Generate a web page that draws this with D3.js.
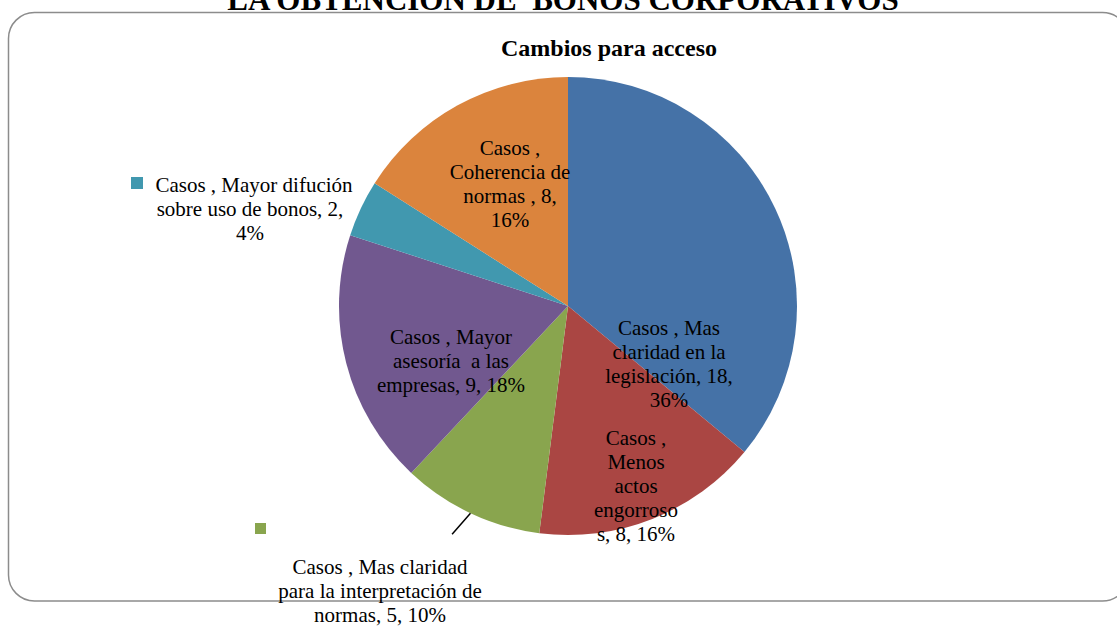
<!DOCTYPE html>
<html>
<head>
<meta charset="utf-8">
<script src="https://cdn.jsdelivr.net/npm/d3@7"></script>
<style>
  body { margin: 0; background: #fff; }
  text { font-family: "Liberation Serif", "Times New Roman", serif; fill: #000; }
</style>
</head>
<body>
<div class="chart"></div>
<script>
var svgWidth = 1117;
var svgHeight = 626;

// data
var categories = [
    "Mas claridad en la legislación",
    "Menos actos engorrosos",
    "Mas claridad para la interpretación de normas",
    "Mayor asesoría  a las empresas",
    "Mayor difución sobre uso de bonos",
    "Coherencia de normas"
];
var values = [18, 8, 5, 9, 2, 8];
var percents = ["36%", "16%", "10%", "18%", "4%", "16%"];
var colors = ["#4572A7", "#AA4643", "#89A54E", "#71588F", "#4198AF", "#DB843D"];

// label text broken the way it wraps in the picture
var labelLines = [
    ["Casos , Mas", "claridad en la", "legislación, 18,", "36%"],
    ["Casos ,", "Menos", "actos", "engorroso", "s, 8, 16%"],
    ["Casos , Mas claridad", "para la interpretación de", "normas, 5, 10%"],
    ["Casos , Mayor", "asesoría  a las", "empresas, 9, 18%"],
    ["Casos , Mayor difución", "sobre uso de bonos, 2,", "4%"],
    ["Casos ,", "Coherencia de", "normas , 8,", "16%"]
];

// label layout (x of line centre, y of first line centre)
var labelPos = [
    {x: 669, y: 328},
    {x: 636, y: 438},
    {x: 380, y: 567},
    {x: 451, y: 337},
    {x: 250, y: 185},
    {x: 510, y: 148}
];

var svg = d3.select(".chart")
    .append("svg")
    .attr("width", svgWidth)
    .attr("height", svgHeight);

// chart area border
svg.append("rect")
    .attr("x", 8.5)
    .attr("y", 12.5)
    .attr("width", 1120)
    .attr("height", 588.5)
    .attr("rx", 26)
    .attr("ry", 26)
    .attr("fill", "none")
    .attr("stroke", "#8c8c8c")
    .attr("stroke-width", 1.5);

// title cut at the top edge
svg.append("text")
    .attr("x", 563)
    .attr("y", 10)
    .attr("text-anchor", "middle")
    .attr("font-size", "31px")
    .attr("font-weight", "bold")
    .style("white-space", "pre")
    .text("LA OBTENCIÓN DE  BONOS CORPORATIVOS");

svg.append("text")
    .attr("x", 609)
    .attr("y", 56)
    .attr("text-anchor", "middle")
    .attr("font-size", "24px")
    .attr("font-weight", "bold")
    .text("Cambios para acceso");

var cx = 568, cy = 306, radius = 229;

var pie = d3.pie().sort(null).value(d => d);
var arc = d3.arc().innerRadius(0).outerRadius(radius);
var arcs = pie(values);

var pieGroup = svg.append("g")
    .attr("transform", `translate(${cx}, ${cy})`);

pieGroup.selectAll("path")
    .data(arcs)
    .enter()
    .append("path")
    .attr("d", arc)
    .attr("fill", (d, i) => colors[i]);

// leader line for the green slice, from its outer edge outward
var midA = (arcs[2].startAngle + arcs[2].endAngle) / 2;
var leaderIn = d3.arc().innerRadius(radius).outerRadius(radius).centroid({startAngle: midA, endAngle: midA});
var leaderOut = d3.arc().innerRadius(radius + 27).outerRadius(radius + 27).centroid({startAngle: midA + 0.03, endAngle: midA + 0.03});
pieGroup.append("line")
    .attr("x1", leaderIn[0])
    .attr("y1", leaderIn[1])
    .attr("x2", leaderOut[0])
    .attr("y2", leaderOut[1])
    .attr("stroke", "#000")
    .attr("stroke-width", 1.5);

// legend keys shown beside outside labels
svg.append("rect")
    .attr("x", 131).attr("y", 177)
    .attr("width", 12).attr("height", 12)
    .attr("fill", colors[4]);

svg.append("rect")
    .attr("x", 255).attr("y", 523)
    .attr("width", 11).attr("height", 11)
    .attr("fill", colors[2]);

// data labels
var lineH = 24;
labelLines.forEach(function (lines, i) {
    var t = svg.append("text")
        .attr("font-size", "21px")
        .attr("text-anchor", "middle")
        .style("white-space", "pre");
    lines.forEach(function (ln, j) {
        var x = labelPos[i].x;
        if (i === 4 && j === 0) x = 254;
        t.append("tspan")
            .attr("x", x)
            .attr("y", labelPos[i].y + j * lineH + 7)
            .text(ln);
    });
});
</script>
</body>
</html>
